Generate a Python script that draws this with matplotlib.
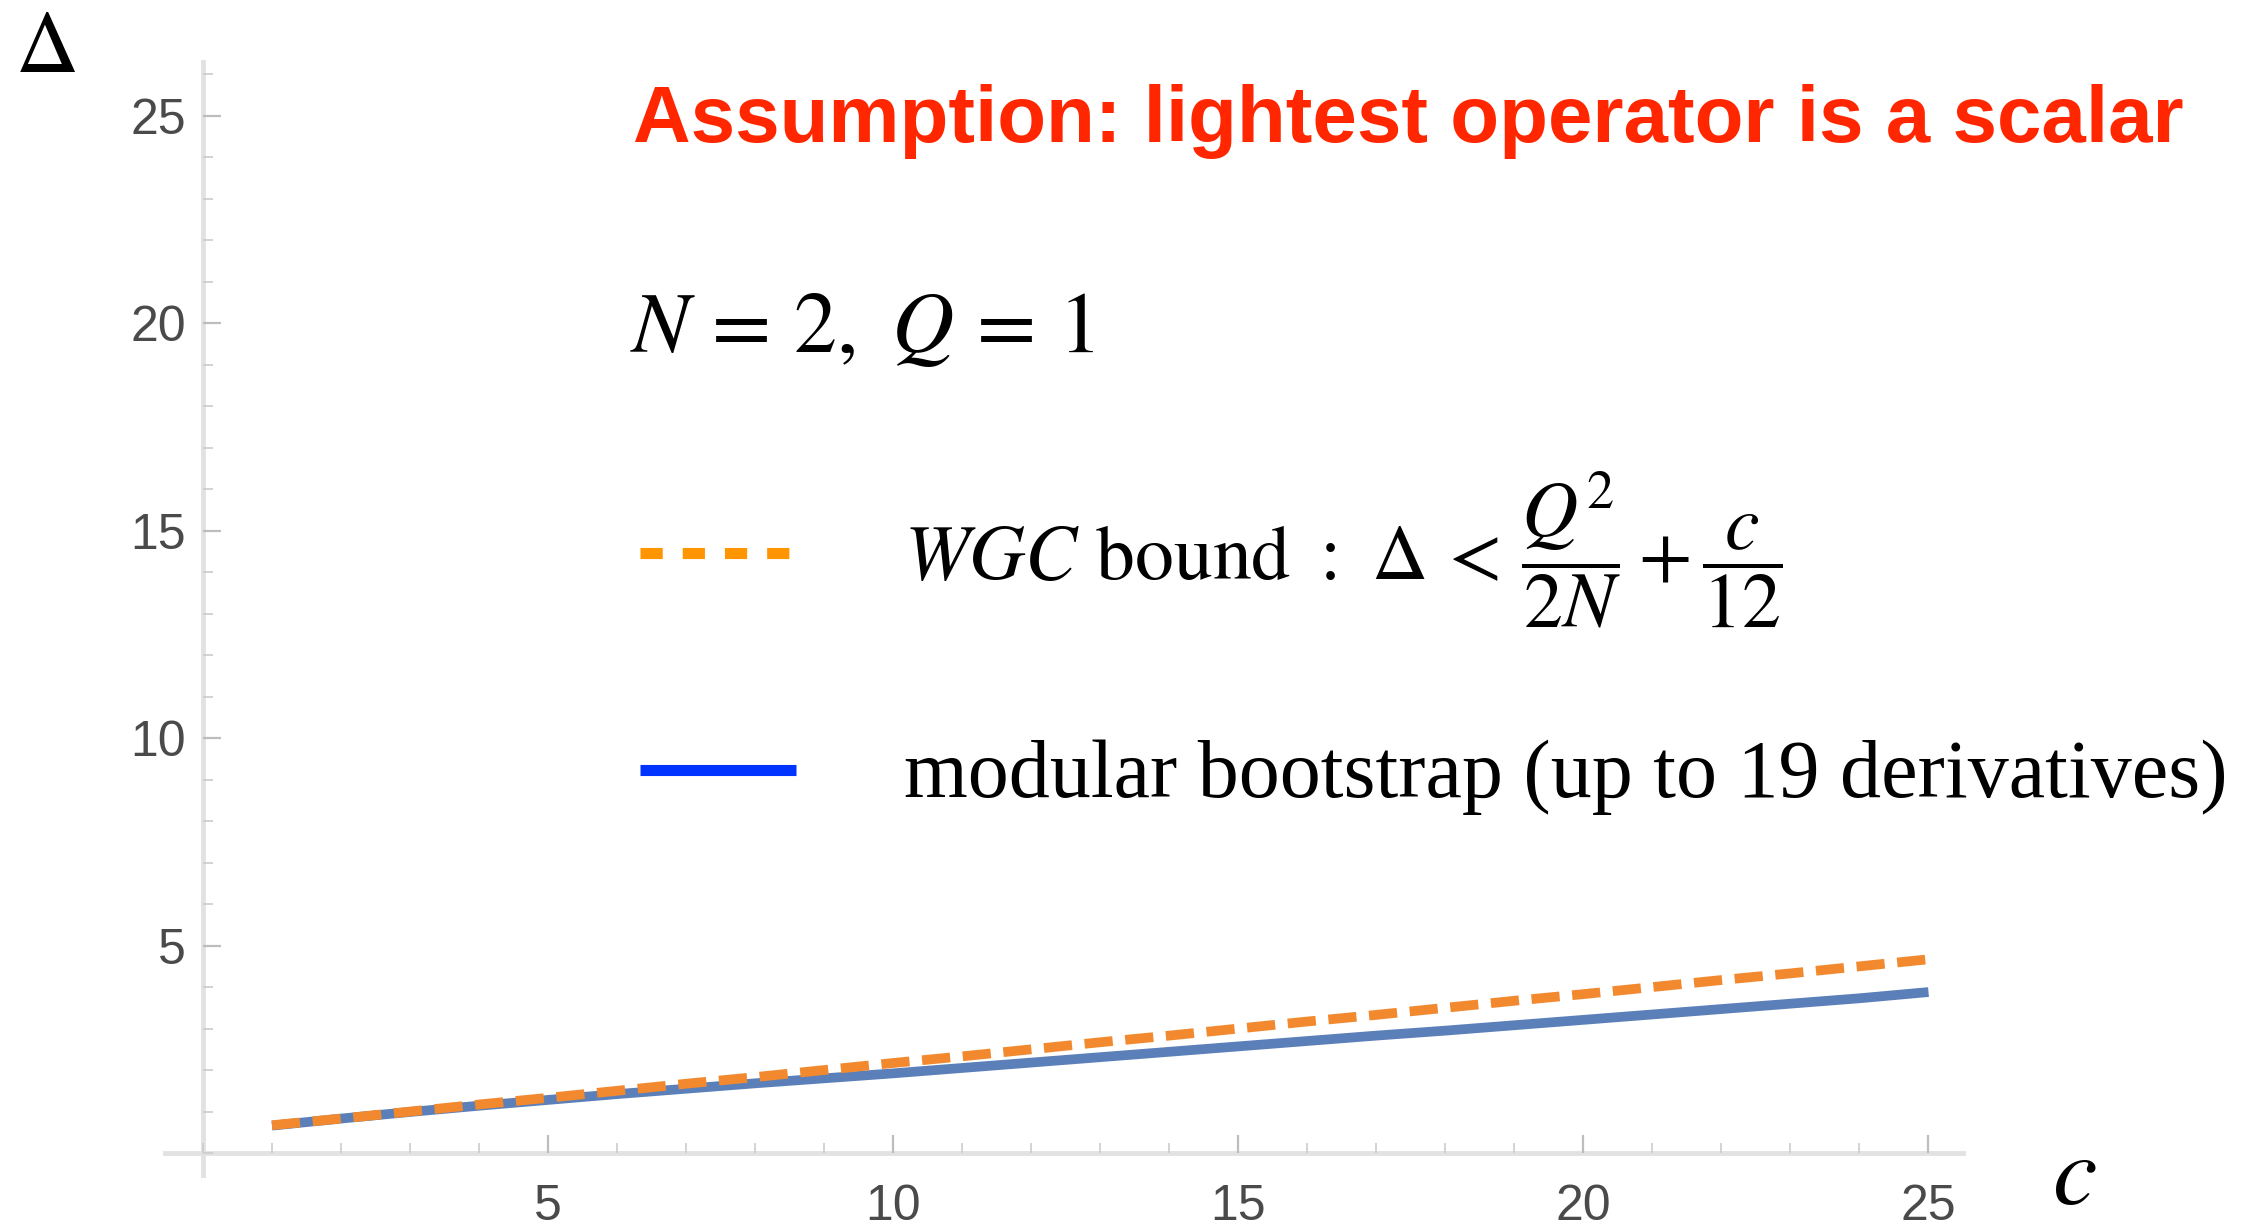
import matplotlib
matplotlib.use("Agg")
import matplotlib.pyplot as plt
from matplotlib.lines import Line2D
from matplotlib.ticker import MultipleLocator

plt.rcParams['mathtext.fontset'] = 'stix'
plt.rcParams['font.family'] = ['Liberation Serif', 'DejaVu Serif']

# central charge c and the two bounds on Delta
c_vals = [1, 2, 3, 4, 5, 6, 7, 8, 9, 10, 11, 12, 13,
          14, 15, 16, 17, 18, 19, 20, 21, 22, 23, 24, 25]
wgc_bound = [0.67, 0.83, 1.00, 1.17, 1.33, 1.50, 1.67, 1.83, 2.00, 2.17, 2.33, 2.50, 2.67,
             2.83, 3.00, 3.17, 3.33, 3.50, 3.67, 3.83, 4.00, 4.17, 4.33, 4.50, 4.67]
bootstrap = [0.66, 0.83, 0.99, 1.14, 1.28, 1.42, 1.55, 1.68, 1.80, 1.92, 2.05, 2.18, 2.31,
             2.44, 2.57, 2.70, 2.83, 2.95, 3.08, 3.21, 3.34, 3.47, 3.60, 3.73, 3.88]
x_ticks = [5, 10, 15, 20, 25]
y_ticks = [5, 10, 15, 20, 25]

W, H = 2255, 1227
fig = plt.figure(figsize=(W / 100, H / 100), dpi=100)
ax = fig.add_axes([165 / W, (H - 1175) / H, (1963 - 165) / W, (1175 - 62) / H])

ax.plot(c_vals, bootstrap, color='#5B7FB8', lw=7, solid_capstyle='butt')
ax.plot(c_vals, wgc_bound, color='#F2892E', lw=7, dashes=(2.9, 1.3), dash_capstyle='butt')

ax.set_xlim(-0.55, 25.5)
ax.set_ylim(-0.53, 26.3)

# axes cross at the origin, Mathematica style
for side in ['top', 'right']:
    ax.spines[side].set_visible(False)
for side in ['left', 'bottom']:
    ax.spines[side].set_position(('data', 0))
    ax.spines[side].set_color('#e2e2e2')
    ax.spines[side].set_linewidth(3.5)
    ax.spines[side].set_zorder(0)

ax.set_xticks(x_ticks)
ax.set_yticks(y_ticks)
ax.xaxis.set_minor_locator(MultipleLocator(1))
ax.yaxis.set_minor_locator(MultipleLocator(1))
ax.tick_params(which='major', direction='in', length=13, width=1.6, color='#bdbdbd',
               labelsize=36, labelcolor='#4a4a4a')
ax.tick_params(which='minor', direction='in', length=7, width=1.2, color='#cccccc')
ax.tick_params(axis='x', which='major', pad=22)
ax.tick_params(axis='y', which='major', pad=12)
for lab in ax.get_xticklabels() + ax.get_yticklabels():
    lab.set_family(['Liberation Sans', 'DejaVu Sans'])

# axis labels
fig.text(15 / W, 1 - 72 / H, r'$\Delta$', fontsize=63, va='baseline', ha='left')
fig.text(2052 / W, 1 - 1204 / H, r'$c$', fontsize=72, va='baseline', ha='left')

fig.text(633 / W, 1 - 142 / H, 'Assumption: lightest operator is a scalar',
         fontsize=57.5, color='#FF2600', fontweight='bold',
         family=['Liberation Sans', 'DejaVu Sans'], va='baseline', ha='left')
fig.text(630 / W, 1 - 352 / H, r'$N\,=\,2,\ Q\,=\,1$', fontsize=62, va='baseline', ha='left')

handles = [
    Line2D([], [], color='#FF9500', lw=8, dashes=(2.0, 1.8), dash_capstyle='butt'),
    Line2D([], [], color='#0033FF', lw=8, solid_capstyle='butt'),
]
labels = [
    r'$\mathit{WGC}\ \mathrm{bound}\ {:}\ \Delta\, <\, \dfrac{Q^2}{2N} + \dfrac{c}{12}$',
    'modular bootstrap (up to 19 derivatives)',
]
leg = ax.legend(handles, labels, loc='upper left', bbox_to_anchor=(640 / W, 1 - 470 / H),
                bbox_transform=fig.transFigure, frameon=False, fontsize=56,
                handlelength=2.0, handletextpad=1.4, labelspacing=1.4, borderpad=0,
                borderaxespad=0)
leg.get_texts()[1].set_fontsize(59)

fig.savefig('out.png', dpi=100)
